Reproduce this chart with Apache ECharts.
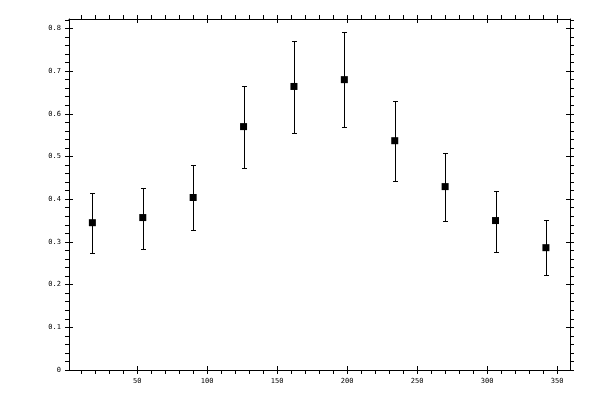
<!DOCTYPE html>
<html>
<head>
<meta charset="utf-8">
<script src="https://cdn.jsdelivr.net/npm/echarts@6/dist/echarts.min.js"></script>
<style>html,body{margin:0;padding:0;background:#fff}#c{width:600px;height:400px}</style>
</head>
<body>
<div id="c"></div>
<script>
// Data
var angles = [18, 54, 90, 126, 162, 198, 234, 270, 306, 342];
var values = [0.345, 0.357, 0.404, 0.570, 0.664, 0.680, 0.537, 0.4295, 0.350, 0.2865];
var upper  = [0.4145, 0.427, 0.480, 0.665, 0.7695, 0.7906, 0.629, 0.509, 0.419, 0.352];
var lower  = [0.275, 0.284, 0.329, 0.474, 0.556, 0.568, 0.4436, 0.350, 0.277, 0.223];

// Tick positions / labels
var xMajorTicks = [50, 100, 150, 200, 250, 300, 350];
var xMinorTicks = [10, 20, 30, 40, 60, 70, 80, 90, 110, 120, 130, 140, 160, 170, 180, 190,
                   210, 220, 230, 240, 260, 270, 280, 290, 310, 320, 330, 340];
var yMajorTicks = [0, 0.1, 0.2, 0.3, 0.4, 0.5, 0.6, 0.7, 0.8];
var yMinorTicks = [0.02, 0.04, 0.06, 0.08, 0.12, 0.14, 0.16, 0.18, 0.22, 0.24, 0.26, 0.28,
                   0.32, 0.34, 0.36, 0.38, 0.42, 0.44, 0.46, 0.48, 0.52, 0.54, 0.56, 0.58,
                   0.62, 0.64, 0.66, 0.68, 0.72, 0.74, 0.76, 0.78, 0.82];

var X_MIN = 1.3, X_MAX = 359.2, Y_MIN = 0, Y_MAX = 0.822;
var FONT = { fontFamily: 'DejaVu Sans Mono', fontSize: 7, color: '#000' };

function mkAxis(kind, position, ticks, inside, showLine, labels) {
  var isX = kind === 'x';
  return {
    type: 'value',
    position: position,
    min: isX ? X_MIN : Y_MIN,
    max: isX ? X_MAX : Y_MAX,
    splitLine: { show: false },
    axisLine: { show: showLine, onZero: false, lineStyle: { color: '#000', width: 1 } },
    axisTick: { show: true, inside: inside, length: 4, customValues: ticks,
                lineStyle: { color: '#000', width: 1 } },
    axisLabel: labels ? Object.assign({ show: true, margin: 8, customValues: ticks,
                showMinLabel: true, showMaxLabel: true }, FONT) : { show: false },
    minorTick: { show: false }
  };
}

var xAxes = [
  mkAxis('x', 'bottom', xMajorTicks, false, true, true),
  mkAxis('x', 'bottom', xMinorTicks, false, false, false),
  mkAxis('x', 'bottom', xMajorTicks, true, false, false),
  mkAxis('x', 'top', xMajorTicks, false, true, false),
  mkAxis('x', 'top', xMinorTicks, false, false, false),
  mkAxis('x', 'top', xMajorTicks, true, false, false)
];
var yAxes = [
  mkAxis('y', 'left', yMajorTicks, false, true, true),
  mkAxis('y', 'left', yMinorTicks, false, false, false),
  mkAxis('y', 'left', yMajorTicks, true, false, false),
  mkAxis('y', 'right', yMajorTicks, false, true, false),
  mkAxis('y', 'right', yMinorTicks, false, false, false),
  mkAxis('y', 'right', yMajorTicks, true, false, false)
];

var errData = angles.map(function (a, i) { return [a, lower[i], upper[i]]; });
var ptData = angles.map(function (a, i) { return [a, values[i]]; });

var chart = echarts.init(document.getElementById('c'), null, { renderer: 'canvas' });
chart.setOption({
  animation: false,
  backgroundColor: '#fff',
  grid: { left: 69, right: 30, top: 19, bottom: 30, containLabel: false },
  xAxis: xAxes,
  yAxis: yAxes,
  series: [
    {
      type: 'custom',
      xAxisIndex: 0, yAxisIndex: 0,
      data: errData,
      encode: { x: 0, y: [1, 2] },
      renderItem: function (params, api) {
        var lo = api.coord([api.value(0), api.value(1)]);
        var hi = api.coord([api.value(0), api.value(2)]);
        var x = Math.round(lo[0]) + 0.5;
        var y1 = Math.round(lo[1]) + 0.5, y2 = Math.round(hi[1]) + 0.5;
        var w = 2.5;
        var st = { stroke: '#000', lineWidth: 1 };
        return {
          type: 'group',
          children: [
            { type: 'line', shape: { x1: x, y1: y1, x2: x, y2: y2 }, style: st },
            { type: 'line', shape: { x1: x - w, y1: y1, x2: x + w, y2: y1 }, style: st },
            { type: 'line', shape: { x1: x - w, y1: y2, x2: x + w, y2: y2 }, style: st }
          ]
        };
      },
      z: 2
    },
    {
      type: 'scatter',
      xAxisIndex: 0, yAxisIndex: 0,
      data: ptData,
      symbol: 'rect',
      symbolSize: 7,
      itemStyle: { color: '#000', opacity: 1 },
      z: 3
    }
  ]
});
</script>
</body>
</html>
